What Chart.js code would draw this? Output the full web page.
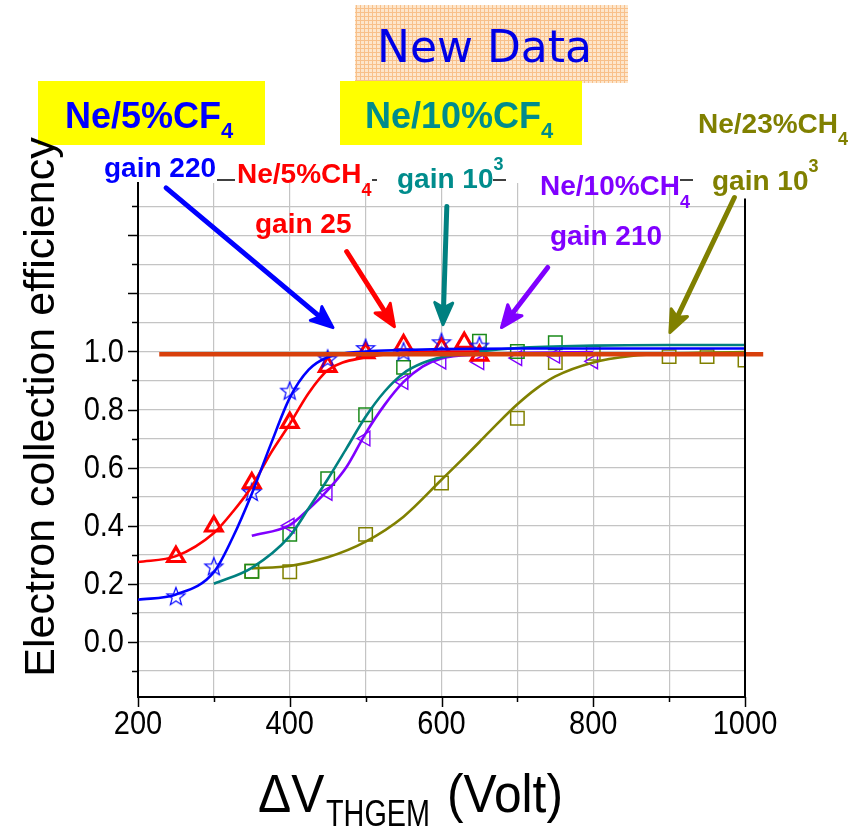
<!DOCTYPE html>
<html><head><meta charset="utf-8">
<script src="https://cdn.jsdelivr.net/npm/chart.js@4.4.1/dist/chart.umd.min.js"></script>
<style>html,body{margin:0;padding:0;background:#fff;}#wrap{width:861px;height:830px;position:relative;}</style>
</head><body><div id="wrap"><canvas id="c" width="861" height="830"></canvas></div>
<script>
// ---------- data ----------
const xTickValues = [200, 400, 600, 800, 1000];
const yTickValues = [0.0, 0.2, 0.4, 0.6, 0.8, 1.0];

// measured points
const cf4_5_V  = [250, 300, 350, 400, 450, 500, 550, 600, 650];
const cf4_5_E  = [0.157, 0.26, 0.516, 0.865, 0.975, 1.012, 1.0, 1.032, 1.02];
const ch4_5_V  = [250, 300, 350, 400, 450, 500, 550, 600, 630, 650];
const ch4_5_E  = [0.293, 0.398, 0.547, 0.755, 0.948, 0.995, 1.022, 1.012, 1.03, 0.986];
const cf4_10_V = [350, 400, 450, 500, 550, 650, 700, 750];
const cf4_10_E = [0.243, 0.37, 0.562, 0.782, 0.945, 1.035, 1.0, 1.03];
const ch4_10_V = [400, 450, 500, 550, 600, 650, 700, 750, 800];
const ch4_10_E = [0.40, 0.513, 0.70, 0.895, 0.965, 0.963, 0.977, 0.985, 0.966];
const ch4_23_V = [350, 400, 500, 600, 700, 750, 800, 900, 950, 1000];
const ch4_23_E = [0.243, 0.241, 0.37, 0.547, 0.77, 0.962, 0.994, 0.982, 0.982, 0.97];

// fitted curves
const fitCf4_5_V  = [200, 250, 300, 325, 350, 375, 400, 425, 450, 500, 550, 600, 700, 800, 900, 1000];
const fitCf4_5_E  = [0.145, 0.163, 0.24, 0.36, 0.51, 0.68, 0.84, 0.937, 0.98, 1.0, 1.005, 1.008, 1.01, 1.01, 1.01, 1.01];
const fitCh4_5_V  = [200, 250, 300, 325, 350, 375, 400, 425, 450, 500, 550, 600, 650];
const fitCh4_5_E  = [0.275, 0.295, 0.375, 0.448, 0.535, 0.65, 0.75, 0.857, 0.935, 0.98, 0.995, 1.0, 1.0];
const fitCf4_10_V = [300, 350, 400, 425, 450, 475, 500, 525, 550, 575, 600, 650, 700, 800, 900, 1000];
const fitCf4_10_E = [0.2, 0.255, 0.364, 0.46, 0.56, 0.667, 0.775, 0.862, 0.925, 0.96, 0.98, 1.0, 1.012, 1.02, 1.022, 1.022];
const fitCh4_10_V = [350, 400, 425, 450, 475, 500, 525, 550, 575, 600, 650, 700, 800];
const fitCh4_10_E = [0.365, 0.402, 0.457, 0.522, 0.603, 0.718, 0.816, 0.895, 0.948, 0.976, 0.99, 0.995, 0.998];
const fitCh4_23_V = [350, 400, 450, 500, 550, 600, 625, 650, 675, 700, 725, 750, 800, 850, 900, 950, 1000];
const fitCh4_23_E = [0.253, 0.261, 0.291, 0.345, 0.431, 0.558, 0.622, 0.688, 0.755, 0.818, 0.872, 0.914, 0.962, 0.984, 0.993, 0.996, 0.998];
const refLineV = [228, 1024];
const refLineE = [0.99, 0.99];

// annotation arrows in data coordinates: [V1, E1, V2(tip), E2(tip)]
const arrowBlue   = [237, 1.563, 457, 1.082];
const arrowRed    = [475, 1.344, 538, 1.085];
const arrowTeal   = [607, 1.499, 602, 1.092];
const arrowPurple = [740, 1.289, 679, 1.082];
const arrowOlive  = [986, 1.53, 901, 1.065];

// ---------- helpers ----------
const pts = (xs, ys) => xs.map((x, i) => ({x: x, y: ys[i]}));
const SANS = "'Liberation Sans', Arial, sans-serif";

function starImage(color) {
  const c = document.createElement('canvas');
  c.width = 22; c.height = 22;
  const g = c.getContext('2d');
  g.strokeStyle = color; g.lineWidth = 1.2; g.lineJoin = 'miter';
  g.beginPath();
  for (let i = 0; i < 10; i++) {
    const r = i % 2 === 0 ? 9.5 : 4.0;
    const a = -Math.PI / 2 + i * Math.PI / 5;
    const px = 11 + r * Math.cos(a), py = 11.8 + r * Math.sin(a);
    if (i === 0) g.moveTo(px, py); else g.lineTo(px, py);
  }
  g.closePath(); g.stroke();
  return c;
}

const BLUE = '#0000ff', RED = '#ff0000', TEAL = '#008080', GREEN = '#1a8a1a',
      PURPLE = '#8000ff', OLIVE = '#808000', ORANGE = '#d8400c', TEALTXT = '#008c8c';

function curve(xs, ys, color, order) {
  return {type: 'line', data: pts(xs, ys), borderColor: color, borderWidth: 2.6,
    pointRadius: 0, cubicInterpolationMode: 'monotone', fill: false, order: order};
}
function markers(xs, ys, color, style, radius, bw, rot, order) {
  return {type: 'line', data: pts(xs, ys), showLine: false, pointStyle: style,
    pointRadius: radius, pointBorderColor: color, pointBackgroundColor: 'rgba(0,0,0,0)',
    pointBorderWidth: bw, pointRotation: rot || 0, borderColor: color, order: order};
}

function drawArrow(ctx, x1, y1, x2, y2, color) {
  const ang = Math.atan2(y2 - y1, x2 - x1);
  const head = 22, hw = 9;
  const bx = x2 - head * Math.cos(ang), by = y2 - head * Math.sin(ang);
  ctx.save();
  ctx.strokeStyle = color; ctx.fillStyle = color; ctx.lineCap = 'round'; ctx.lineJoin = 'round';
  ctx.lineWidth = 5;
  ctx.beginPath(); ctx.moveTo(x1, y1); ctx.lineTo(bx + 6 * Math.cos(ang), by + 6 * Math.sin(ang)); ctx.stroke();
  ctx.beginPath(); ctx.moveTo(x2, y2);
  ctx.lineTo(bx + hw * Math.sin(ang), by - hw * Math.cos(ang));
  ctx.lineTo(bx + 5 * Math.cos(ang), by + 5 * Math.sin(ang));
  ctx.lineTo(bx - hw * Math.sin(ang), by + hw * Math.cos(ang));
  ctx.closePath(); ctx.fill(); ctx.lineWidth = 3; ctx.stroke();
  ctx.restore();
}

// rich text: parts [{t, size, dy}]
function rich(ctx, x, y, color, parts, weight, family, sx) {
  ctx.save();
  ctx.fillStyle = color; ctx.textBaseline = 'alphabetic'; ctx.textAlign = 'left';
  let cx = x;
  parts.forEach(p => {
    ctx.font = (weight || 'bold') + ' ' + p.size + 'px ' + (family || SANS);
    ctx.save();
    ctx.translate(cx, y + (p.dy || 0));
    ctx.scale(sx || 1, 1);
    ctx.fillText(p.t, 0, 0);
    ctx.restore();
    cx += ctx.measureText(p.t).width * (sx || 1) + (p.gap || 0);
  });
  ctx.restore();
}

// condensed text with alignment
function label(ctx, text, x, y, align, baseline, size, sx) {
  ctx.save();
  ctx.font = size + 'px ' + SANS; ctx.fillStyle = '#000';
  ctx.textAlign = align; ctx.textBaseline = baseline;
  ctx.translate(x, y); ctx.scale(sx, 1);
  ctx.fillText(text, 0, 0);
  ctx.restore();
}

const decor = {
  id: 'decor',
  beforeDraw(chart) {
    const ctx = chart.ctx;
    ctx.save();
    ctx.fillStyle = '#fff'; ctx.fillRect(0, 0, 861, 830);
    // New Data box with fine orange grid pattern
    const pc = document.createElement('canvas'); pc.width = 4; pc.height = 4;
    const pg = pc.getContext('2d');
    pg.fillStyle = '#fde6cc'; pg.fillRect(0, 0, 4, 4);
    pg.fillStyle = '#f8c08a'; pg.fillRect(0, 0, 4, 1); pg.fillRect(0, 0, 1, 4);
    ctx.fillStyle = ctx.createPattern(pc, 'repeat');
    ctx.fillRect(355, 5, 273, 78);
    // yellow boxes
    ctx.fillStyle = '#ffff00';
    ctx.fillRect(38, 81, 227, 64);
    ctx.fillRect(340, 81, 242, 64);
    ctx.restore();
  },
  afterDraw(chart) {
    const ctx = chart.ctx, xs = chart.scales.x, ys = chart.scales.y, ca = chart.chartArea;
    ctx.save();
    // tick marks
    ctx.strokeStyle = '#000'; ctx.lineWidth = 1.5;
    for (let k = -1; k <= 15; k++) {
      const py = Math.round(ys.getPixelForValue(k / 10)) + 0.5;
      const len = (k % 2 === 0) ? 10 : 6;
      ctx.beginPath(); ctx.moveTo(ca.left - len, py); ctx.lineTo(ca.left, py); ctx.stroke();
    }
    for (let v = 200; v <= 1000; v += 100) {
      const px = Math.round(xs.getPixelForValue(v)) + 0.5;
      const len = (v % 200 === 0) ? 10 : 5;
      ctx.beginPath(); ctx.moveTo(px, ca.bottom); ctx.lineTo(px, ca.bottom + len); ctx.stroke();
    }
    // tick labels (condensed, like the original)
    yTickValues.forEach(v => label(ctx, v.toFixed(1), ca.left - 14, ys.getPixelForValue(v) + 1, 'right', 'middle', 33, 0.88));
    xTickValues.forEach(v => label(ctx, String(v), xs.getPixelForValue(v), ca.bottom + 37, 'center', 'alphabetic', 33, 0.88));
    // right border
    ctx.lineWidth = 2;
    ctx.beginPath(); ctx.moveTo(ca.right, ys.getPixelForValue(1.527)); ctx.lineTo(ca.right, ca.bottom); ctx.stroke();
    // arrows
    [[arrowBlue, BLUE], [arrowRed, RED], [arrowTeal, TEAL], [arrowPurple, PURPLE], [arrowOlive, OLIVE]].forEach(a => {
      const d = a[0];
      drawArrow(ctx, xs.getPixelForValue(d[0]), ys.getPixelForValue(d[1]),
                xs.getPixelForValue(d[2]), ys.getPixelForValue(d[3]), a[1]);
    });
    // legend dashes
    ctx.strokeStyle = '#000'; ctx.lineWidth = 1.5;
    [[217, 235, 180], [372, 377, 180], [493, 506, 180], [680, 693, 180]].forEach(s => {
      ctx.beginPath(); ctx.moveTo(s[0], s[2]); ctx.lineTo(s[1], s[2]); ctx.stroke();
    });
    // header texts
    rich(ctx, 377, 62, '#0000e6', [{t: 'New Data', size: 44}], 'normal', "'DejaVu Sans', sans-serif");
    rich(ctx, 65, 128, BLUE, [{t: 'Ne/5%CF', size: 36}, {t: '4', size: 22, dy: 10}]);
    rich(ctx, 365, 128, TEALTXT, [{t: 'Ne/10%CF', size: 36}, {t: '4', size: 22, dy: 10}]);
    rich(ctx, 104, 177, BLUE, [{t: 'gain 220', size: 28}]);
    rich(ctx, 237, 183, RED, [{t: 'Ne/5%CH', size: 28}, {t: '4', size: 18, dy: 13}]);
    rich(ctx, 255, 233, RED, [{t: 'gain 25', size: 28}]);
    rich(ctx, 397, 188, TEALTXT, [{t: 'gain 10', size: 28}, {t: '3', size: 18, dy: -18}]);
    rich(ctx, 540, 195, PURPLE, [{t: 'Ne/10%CH', size: 28}, {t: '4', size: 18, dy: 13}]);
    rich(ctx, 550, 245, PURPLE, [{t: 'gain 210', size: 28}]);
    rich(ctx, 698, 133, OLIVE, [{t: 'Ne/23%CH', size: 28}, {t: '4', size: 18, dy: 12}]);
    rich(ctx, 712, 190, OLIVE, [{t: 'gain 10', size: 28}, {t: '3', size: 18, dy: -18}]);
    // axis titles
    ctx.save();
    ctx.translate(42, 407); ctx.rotate(-Math.PI / 2);
    ctx.fillStyle = '#000'; ctx.font = '43px ' + SANS; ctx.textAlign = 'center'; ctx.textBaseline = 'middle';
    ctx.fillText('Electron collection efficiency', 0, 0);
    ctx.restore();
    rich(ctx, 258, 812, '#000', [{t: '\u0394V', size: 54}], 'normal', SANS, 0.92);
    rich(ctx, 326, 826, '#000', [{t: 'THGEM', size: 36}], 'normal', SANS, 0.8);
    rich(ctx, 447, 812, '#000', [{t: '(Volt)', size: 54}], 'normal', SANS, 0.92);
    ctx.restore();
  }
};

const chart = new Chart(document.getElementById('c'), {
  type: 'line',
  data: {
    datasets: [
      {type: 'line', data: pts(refLineV, refLineE), borderColor: ORANGE, borderWidth: 4.5,
        pointRadius: 0, fill: false, clip: false, order: 0},
      curve(fitCf4_5_V, fitCf4_5_E, BLUE, 2),
      curve(fitCh4_5_V, fitCh4_5_E, RED, 3),
      curve(fitCf4_10_V, fitCf4_10_E, TEAL, 4),
      curve(fitCh4_10_V, fitCh4_10_E, PURPLE, 5),
      curve(fitCh4_23_V, fitCh4_23_E, OLIVE, 6),
      markers(cf4_5_V, cf4_5_E, BLUE, starImage(BLUE), 10, 1, 0, 7),
      markers(ch4_5_V, ch4_5_E, RED, 'triangle', 9.5, 3.2, 0, 8),
      markers(cf4_10_V, cf4_10_E, GREEN, 'rect', 9.5, 1.5, 0, 9),
      markers(ch4_10_V, ch4_10_E, PURPLE, 'triangle', 8.5, 1.4, -90, 10),
      markers(ch4_23_V, ch4_23_E, OLIVE, 'rect', 9.5, 1.5, 0, 11)
    ]
  },
  options: {
    responsive: false, animation: false, devicePixelRatio: 1,
    layout: {padding: {left: 0, top: 183, right: 116, bottom: 0}},
    plugins: {legend: {display: false}, tooltip: {enabled: false}},
    scales: {
      x: {
        type: 'linear', min: 200, max: 1000,
        afterBuildTicks: s => { const t = []; for (let v = 200; v <= 1000; v += 100) t.push({value: v}); s.ticks = t; },
        afterFit: s => { s.height = 133; },
        ticks: {display: false},
        grid: {
          color: c => (c.tick && (c.tick.value === 200 || c.tick.value === 1000)) ? 'rgba(0,0,0,0)' : '#c4c4c4',
          lineWidth: 1.2, drawTicks: false
        },
        border: {display: true, color: '#000', width: 2}
      },
      y: {
        type: 'linear', min: -0.19, max: 1.58,
        afterBuildTicks: s => { const t = []; for (let k = -1; k <= 15; k++) t.push({value: k / 10}); s.ticks = t; },
        afterFit: s => { s.width = 138; },
        ticks: {display: false},
        grid: {color: '#c4c4c4', lineWidth: 1.2, drawTicks: false},
        border: {display: true, color: '#000', width: 2}
      }
    }
  },
  plugins: [decor]
});
</script>
</body></html>
